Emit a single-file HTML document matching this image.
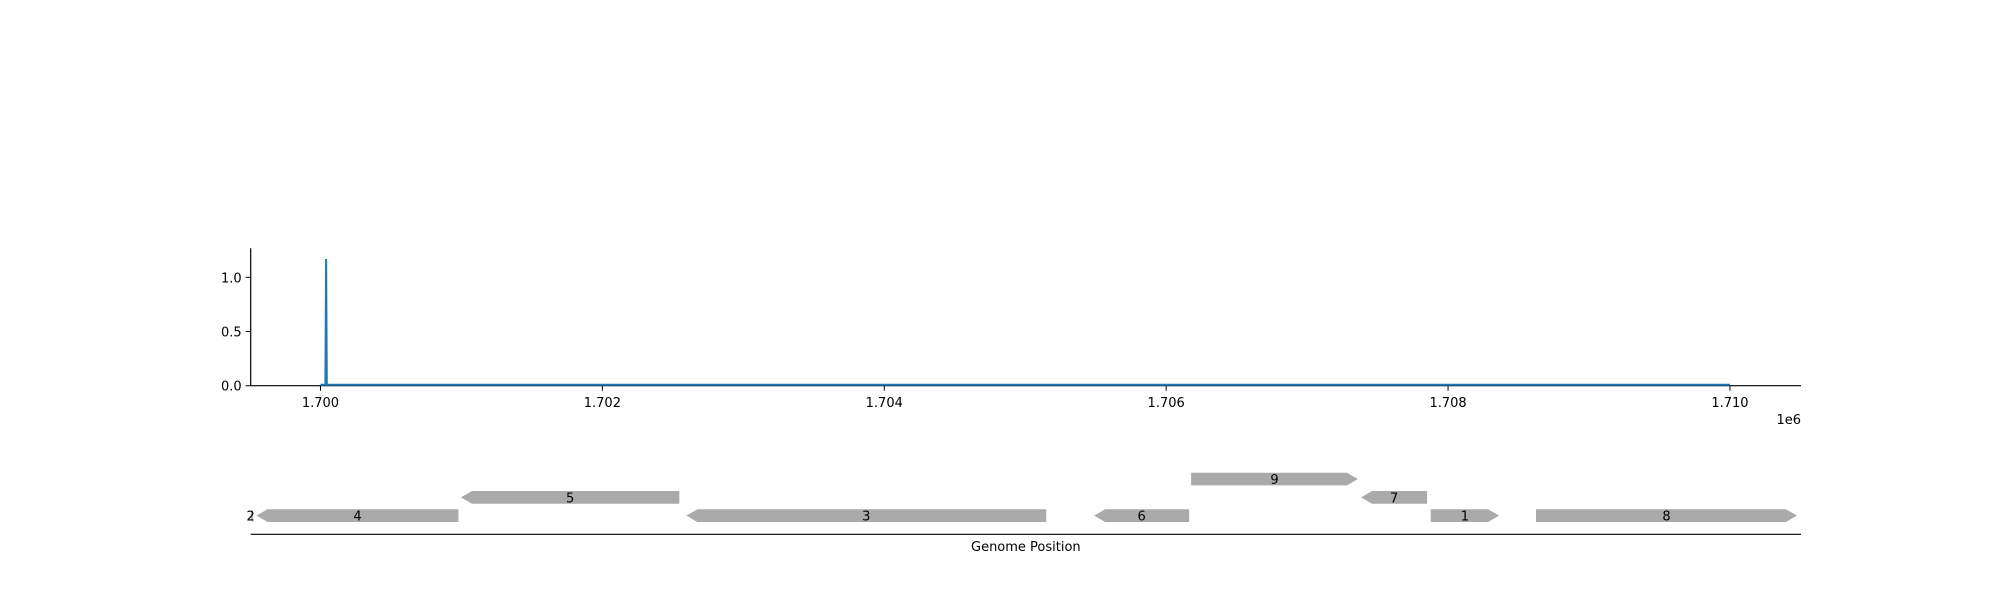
<!DOCTYPE html>
<html><head><meta charset="utf-8"><style>
body{margin:0;background:#fff}
svg text{font-family:"DejaVu Sans","Liberation Sans",sans-serif;font-size:13px;fill:#000}
</style></head><body>
<svg width="2000" height="600" viewBox="0 0 2000 600">
<defs><clipPath id="clp"><rect x="250.7" y="440" width="1550.3" height="100"/></clipPath></defs>
<g id="gtop"></g>
<g id="gbot"></g>
</svg>
<script>
const covPos=[1700000,1700035,1700040,1700045,1710000];
const covVal=[0,0,1.16,0,0];
const yTicks=[0,0.5,1.0];
const yTickLabels=["0.0","0.5","1.0"];
const xTicks=[1700000,1702000,1704000,1706000,1708000,1710000];
const xTickLabels=["1.700","1.702","1.704","1.706","1.708","1.710"];
const geneNames=["2","4","5","3","6","9","7","1","8"];
const geneStart=[1699490,1699546,1700997,1702596,1705489,1706177,1707383,1707877,1708624];
const geneEnd=[1699520,1700979,1702546,1705149,1706163,1707360,1707851,1708362,1710475];
const geneStrand=[-1,-1,-1,-1,-1,1,-1,1,1];
const geneRow=[0,0,1,0,0,2,1,0,0];

const NS="http://www.w3.org/2000/svg";
const xmin=1699505,xmax=1710504,L=250.7,R=1801;
const X=v=>L+(v-xmin)/(xmax-xmin)*(R-L);
const Y=v=>385.7-v*108.4;
function mk(p,t,a){const e=document.createElementNS(NS,t);for(const k in a)e.setAttribute(k,a[k]);p.appendChild(e);return e;}
const gTop=document.getElementById('gtop'),gBot=document.getElementById('gbot');

let ax=mk(gTop,'path',{d:`M${L},248.3V385.7H${R}`,fill:'none',stroke:'#000','stroke-width':1.2});


yTicks.forEach((t,i)=>{
 let tk=mk(gTop,'line',{x1:L-5,x2:L,y1:Y(t),y2:Y(t),stroke:'#000'});
 
 
 let tx=mk(gTop,'text',{x:L-9,y:Y(t)+5,'text-anchor':'end'});tx.textContent=yTickLabels[i];
 
 
});
xTicks.forEach((t,i)=>{
 let tk=mk(gTop,'line',{x1:X(t),x2:X(t),y1:385.7,y2:390.7,stroke:'#000'});
 
 
 let tx=mk(gTop,'text',{x:X(t),y:407,'text-anchor':'middle'});tx.textContent=xTickLabels[i];
 
 
});
let off=mk(gTop,'text',{x:1801,y:424,'text-anchor':'end'});off.textContent='1e6';


let ln=mk(gTop,'polyline',{points:covPos.map((p,i)=>X(p)+','+(Y(covVal[i])-1)).join(' '),fill:'none',stroke:'#1f77b4','stroke-width':2});



const rowY=r=>509.3-r*18.3, H=12.7, head=11;
geneNames.forEach((n,i)=>{
 const a=X(geneStart[i]),b=X(geneEnd[i]),y=rowY(geneRow[i]),m=y+H/2;
 const h=Math.min(head,b-a);
 let d;
 if(geneStrand[i]>0){d=`M${a},${y}H${b-h}L${b},${m}L${b-h},${y+H}H${a}Z`;}
 else{d=`M${b},${y}H${a+h}L${a},${m}L${a+h},${y+H}H${b}Z`;}
 let g=mk(gBot,'path',{d,fill:'#aaaaaa','clip-path':'url(#clp)'});
 
 
 let t=mk(gBot,'text',{x:(a+b)/2,y:m+5,'text-anchor':'middle'});t.textContent=n;
 
 
});
let bl=mk(gBot,'line',{x1:L,x2:R,y1:534.3,y2:534.3,stroke:'#000','stroke-width':1.2});


let xl=mk(gBot,'text',{x:(L+R)/2,y:551,'text-anchor':'middle'});xl.textContent='Genome Position';


</script>
</body></html>
